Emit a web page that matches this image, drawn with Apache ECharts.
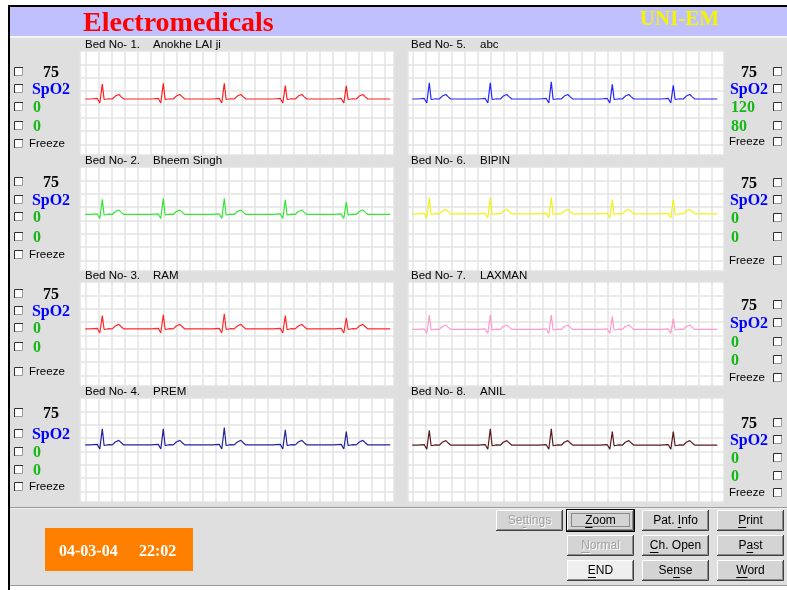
<!DOCTYPE html>
<html>
<head>
<meta charset="utf-8">
<title>Electromedicals - UNI-EM</title>
<script src="https://cdn.jsdelivr.net/npm/echarts@6/dist/echarts.min.js"></script>
<style>
  html, body { margin: 0; padding: 0; background: #fff; }
  #main { width: 787px; height: 590px; }
</style>
</head>
<body>
<div id="main"></div>
<script>
// ---- data ----
const bedLabels = ['Bed No- 1.', 'Bed No- 2.', 'Bed No- 3.', 'Bed No- 4.', 'Bed No- 5.', 'Bed No- 6.', 'Bed No- 7.', 'Bed No- 8.'];
const patientNames = ['Anokhe LAI ji', 'Bheem Singh', 'RAM', 'PREM', 'abc', 'BIPIN', 'LAXMAN', 'ANIL'];
const heartRates = [75, 75, 75, 75, 75, 75, 75, 75];
const nibpSys = [0, 0, 0, 0, 120, 0, 0, 0];
const nibpDia = [0, 0, 0, 0, 80, 0, 0, 0];
const traceColors = ['#ff1f1f', '#33e633', '#ff2a2a', '#24249c', '#2626ff', '#f2f21a', '#ff9acb', '#5a1c1c'];

// R wave position (samples from sweep start), same sweep on every bed
const rTimes = [17, 78, 139, 200, 261];
const sweepEnd = 305;
// R amplitude of each beat (mV)
const rAmps = [
  [0.56, 0.59, 0.59, 0.50, 0.49],
  [0.57, 0.60, 0.60, 0.55, 0.46],
  [0.50, 0.53, 0.57, 0.50, 0.42],
  [0.60, 0.60, 0.65, 0.57, 0.50],
  [0.61, 0.61, 0.64, 0.55, 0.51],
  [0.61, 0.61, 0.61, 0.54, 0.54],
  [0.54, 0.54, 0.54, 0.49, 0.41],
  [0.56, 0.61, 0.61, 0.51, 0.51]
];
// isoelectric line of each trace (mV)
const baselines = [0.20, 0.22, 0.24, 0.24, 0.20, 0.24, 0.22, 0.23];
// P-Q before the R and S-T after it: [samples from R, mV above baseline]
const beforeR = [[-12, 0], [-9, 0.01], [-7, 0.06], [-5, 0.02], [-4, 0], [-2.5, -0.15]];
const afterR = [[1.8, -0.02], [3, 0.01], [6.5, 0.01], [8, -0.03], [10, 0], [13, 0.11], [16.5, 0.17], [19, 0.08], [21.5, 0]];

const buttonRows = [
  ['Settings', 'Zoom', 'Pat. Info', 'Print'],
  [null, 'Normal', 'Ch. Open', 'Past'],
  [null, 'END', 'Sense', 'Word']
];
const underlineAt = { 'Settings': 2, 'Zoom': 0, 'Pat. Info': 5, 'Print': 0, 'Normal': 0, 'Ch. Open': 0, 'Past': 1, 'END': 0, 'Sense': 2, 'Word': 0 };
const dateText = '04-03-04';
const timeText = '22:02';

// ---- layout ----
const rowTop = [51, 167, 282, 398];
const panelH = 104;
const colLeft = [80, 408];
const colWidth = [314, 316];
const colXMin = [-5.3, -4.3];

const leftRowsY = [[71, 88, 106, 125, 143], [181, 199, 216, 236, 254], [293, 310, 327, 346, 371], [412, 433, 451, 469, 486]];
const rightRowsY = [[71, 88, 106, 125, 141], [182, 199, 217, 236, 260], [304, 322, 341, 359, 377], [422, 439, 457, 475, 492]];

const chart = echarts.init(document.getElementById('main'));

const g = [];
function rect(x, y, w, h, fill, z) {
  g.push({ type: 'rect', silent: true, z: z == null ? -10 : z, shape: { x: x, y: y, width: w, height: h }, style: { fill: fill } });
}
function poly(points, stroke, z, dash) {
  g.push({ type: 'polyline', silent: true, z: z == null ? 10 : z, shape: { points: points }, style: { stroke: stroke, lineWidth: 1, fill: null, lineDash: dash || null } });
}
function text(x, y, str, font, fill, align, z) {
  g.push({ type: 'text', silent: true, z: z == null ? 10 : z, x: x, y: y, style: { text: str, font: font, fill: fill, align: align || 'left', verticalAlign: 'middle' } });
}
function checkbox(x, cy) {
  const y = Math.round(cy - 4);
  rect(x, y, 9, 9, '#ffffff', 9);
  poly([[x + 0.5, y + 9], [x + 0.5, y + 0.5], [x + 9, y + 0.5]], '#303030');
  poly([[x + 1, y + 8.5], [x + 8.5, y + 8.5], [x + 8.5, y + 1]], '#9a9a9a');
}

const measure = document.createElement('canvas').getContext('2d');
const btnFont = '12px "Liberation Sans", Arial, sans-serif';
function button(x, y, w, h, label, opts) {
  const face = opts.face || '#d4d4d4';
  if (opts.isDefault) {
    rect(x - 1, y - 1, w + 2, h + 2, '#000000', 8);
  }
  rect(x, y, w, h, face, 8);
  poly([[x + 0.5, y + h - 1], [x + 0.5, y + 0.5], [x + w - 1, y + 0.5]], '#ffffff');
  poly([[x, y + h - 0.5], [x + w - 0.5, y + h - 0.5], [x + w - 0.5, y]], '#404040');
  poly([[x + 1, y + h - 1.5], [x + w - 1.5, y + h - 1.5], [x + w - 1.5, y + 1]], '#8a8a8a');
  if (opts.isDefault) {
    poly([[x + 4.5, y + 3.5], [x + w - 4.5, y + 3.5], [x + w - 4.5, y + h - 4.5], [x + 4.5, y + h - 4.5], [x + 4.5, y + 3.5]], '#404040', 11, [1, 1]);
  }
  const cx = x + w / 2, cy = y + h / 2 + 0.5;
  measure.font = btnFont;
  const tw = measure.measureText(label).width;
  const ui = underlineAt[label];
  const ux0 = cx - tw / 2 + measure.measureText(label.slice(0, ui)).width;
  const ux1 = ux0 + measure.measureText(label.charAt(ui)).width;
  if (opts.disabled) {
    text(cx + 1, cy + 1, label, btnFont, '#ffffff', 'center');
    text(cx, cy, label, btnFont, '#a0a0a0', 'center', 11);
    poly([[ux0 + 1, cy + 6.5 + 1], [ux1 + 1, cy + 6.5 + 1]], '#ffffff');
    poly([[ux0, cy + 6.5], [ux1, cy + 6.5]], '#a0a0a0', 11);
  } else {
    text(cx, cy, label, btnFont, '#000000', 'center');
    poly([[ux0, cy + 6.5], [ux1, cy + 6.5]], '#000000');
  }
}

// window
rect(0, 0, 787, 590, '#ffffff', -20);
rect(10, 7, 777, 579, '#dfdfdf', -15);
rect(8, 5, 779, 2, '#000000', -12);
rect(8, 5, 2, 585, '#000000', -12);
rect(10, 7, 777, 29, '#c0c0ff', -12);
rect(10, 36, 777, 2, '#f4f4f4', -12);
rect(10, 507, 777, 1, '#9a9a9a', -12);
rect(10, 508, 777, 1, '#f0f0f0', -12);
rect(10, 585, 777, 1, '#9a9a9a', -12);
text(83, 24, 'Electromedicals', 'bold 28px "Liberation Serif", "Times New Roman", serif', '#ff0000');
text(679.5, 19.5, 'UNI-EM', 'bold 21px "Liberation Serif", "Times New Roman", serif', '#f4f400', 'center');

// bed labels and vital sign readouts
const labelFont = '11.5px "Liberation Sans", Arial, sans-serif';
const bigFont = 'bold 16px "Liberation Serif", "Times New Roman", serif';
for (let i = 0; i < 8; i++) {
  const col = i < 4 ? 0 : 1;
  const row = i % 4;
  const ly = rowTop[row] - 6.5;
  text(col === 0 ? 85 : 411, ly, bedLabels[i], labelFont, '#000000');
  text(col === 0 ? 153 : 480, ly, patientNames[i], labelFont, '#000000');
  const ys = col === 0 ? leftRowsY[row] : rightRowsY[row];
  const cbx = col === 0 ? 14 : 773;
  ys.forEach(function (y) { checkbox(cbx, y); });
  const cx = col === 0 ? 51 : 749;
  const nx = col === 0 ? 33 : 731;
  const fx = col === 0 ? 29 : 729;
  text(cx, ys[0] + 1.5, String(heartRates[i]), bigFont, '#000000', 'center');
  text(cx, ys[1] + 1.5, 'SpO2', bigFont, '#0000ff', 'center');
  text(nx, ys[2] + 1.5, String(nibpSys[i]), bigFont, '#16b816');
  text(nx, ys[3] + 1.5, String(nibpDia[i]), bigFont, '#16b816');
  text(fx, ys[4] + 0.5, 'Freeze', labelFont, '#000000');
}

// date / time box
rect(45, 528, 148, 43, '#ff8000', 5);
const dtFont = 'bold 16px "Liberation Serif", "Times New Roman", serif';
text(59, 551.5, dateText, dtFont, '#ffffff');
text(139, 551.5, timeText, dtFont, '#ffffff');

// buttons
const btnX = [496, 567, 642, 717];
const btnY = [510, 535, 560];
buttonRows.forEach(function (row, r) {
  row.forEach(function (label, c) {
    if (!label) return;
    button(btnX[c], btnY[r], 67, 21, label, {
      disabled: label === 'Settings' || label === 'Normal',
      isDefault: label === 'Zoom',
      face: label === 'END' ? '#efefef' : '#d4d4d4'
    });
  });
});

// ---- ECG traces ----
function buildTrace(bed) {
  const base = baselines[bed];
  const pts = [[0, base]];
  rTimes.forEach(function (t, k) {
    beforeR.forEach(function (p) { pts.push([t + p[0], base + p[1]]); });
    pts.push([t, base + rAmps[bed][k]]);
    afterR.forEach(function (p) { pts.push([t + p[0], base + p[1]]); });
  });
  pts.push([sweepEnd, base]);
  return pts;
}

const grids = [], xAxes = [], yAxes = [], series = [];
for (let i = 0; i < 8; i++) {
  const col = i < 4 ? 0 : 1;
  const row = i % 4;
  grids.push({
    left: colLeft[col], top: rowTop[row], width: colWidth[col], height: panelH,
    show: true, backgroundColor: '#ffffff', borderWidth: 0
  });
  xAxes.push({
    gridIndex: i, type: 'value',
    min: colXMin[col], max: colXMin[col] + colWidth[col],
    minInterval: 13, maxInterval: 13,
    axisLine: { show: false }, axisTick: { show: false }, axisLabel: { show: false },
    splitLine: { show: true, lineStyle: { color: '#e3e3e3', width: 1.5 } }
  });
  yAxes.push({
    gridIndex: i, type: 'value',
    min: -1.9, max: 2.0,
    minInterval: 0.5, maxInterval: 0.5,
    axisLine: { show: false }, axisTick: { show: false }, axisLabel: { show: false },
    splitLine: { show: true, lineStyle: { color: '#e3e3e3', width: 1.5 } }
  });
  series.push({
    name: patientNames[i],
    type: 'line', xAxisIndex: i, yAxisIndex: i,
    data: buildTrace(i),
    symbol: 'none', showSymbol: false,
    lineStyle: { color: traceColors[i], width: 1.2 },
    z: 3
  });
}

chart.setOption({
  animation: false,
  grid: grids,
  xAxis: xAxes,
  yAxis: yAxes,
  series: series,
  graphic: { elements: g }
});
</script>
</body>
</html>
